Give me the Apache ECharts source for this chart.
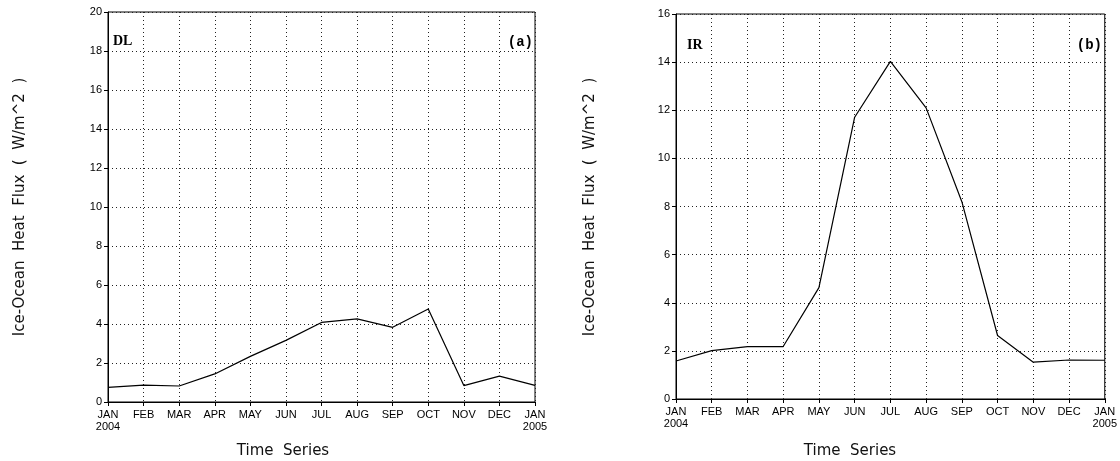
<!DOCTYPE html>
<html>
<head>
<meta charset="utf-8">
<script src="https://cdn.jsdelivr.net/npm/echarts@6/dist/echarts.min.js"></script>
<style>
html,body{margin:0;padding:0;background:#fff;}
#chart{width:1120px;height:461px;}
</style>
</head>
<body>
<div id="chart"></div>
<script>
// ---- data ----
const months = ['JAN\n2004','FEB','MAR','APR','MAY','JUN','JUL','AUG','SEP','OCT','NOV','DEC','JAN\n2005'];
const dlFlux = [0.75, 0.87, 0.82, 1.44, 2.34, 3.16, 4.08, 4.26, 3.83, 4.77, 0.84, 1.33, 0.85];
const irFlux = [1.58, 2.01, 2.18, 2.18, 4.63, 11.71, 14.03, 12.10, 8.20, 2.64, 1.53, 1.62, 1.61];
const dlAxis = {min: 0, max: 20, interval: 2};
const irAxis = {min: 0, max: 16, interval: 2};
const yTitle = 'Ice-Ocean  Heat  Flux  (  W/m^2  )';
const xTitle = 'Time  Series';
const panelTags = [['DL', '(a)'], ['IR', '(b)']];

// ---- chart ----
const chart = echarts.init(document.getElementById('chart'), null, {renderer: 'canvas'});
const dotted = {color: '#222', width: 1, type: [1, 3]};
const tickFont = {color: '#000', fontFamily: 'Liberation Sans', fontSize: 11};

function xAx(gi) {
  return {
    gridIndex: gi, type: 'category', data: months, boundaryGap: false,
    axisLine: {show: true, lineStyle: {color: '#000', width: 1}},
    axisTick: {show: true, length: 4, interval: 0, lineStyle: {color: '#000'}},
    axisLabel: Object.assign({interval: 0, margin: 7, lineHeight: 12}, tickFont),
    splitLine: {show: true, interval: 0, lineStyle: dotted}
  };
}
function yAx(gi, a) {
  return {
    gridIndex: gi, type: 'value', min: a.min, max: a.max, interval: a.interval,
    axisLine: {show: true, lineStyle: {color: '#000', width: 1}},
    axisTick: {show: true, length: 4, lineStyle: {color: '#000'}},
    axisLabel: Object.assign({margin: 6}, tickFont),
    splitLine: {show: true, lineStyle: dotted}
  };
}
function txt(x, y, text, font, opts) {
  return {
    type: 'text', x: x, y: y,
    style: Object.assign({text: text, fill: '#000', font: font, align: 'left', verticalAlign: 'middle'}, opts || {})
  };
}
const titleFont = '15px "DejaVu Sans"';
const tagSerif = 'bold 14px "Liberation Serif"';
const tagMono = 'bold 14px "Liberation Mono"';

chart.setOption({
  animation: false,
  backgroundColor: '#fff',
  grid: [
    {left: 108, top: 12, width: 427, height: 390, show: true, borderColor: '#000', borderWidth: 1, backgroundColor: 'transparent'},
    {left: 676, top: 14, width: 429, height: 385, show: true, borderColor: '#000', borderWidth: 1, backgroundColor: 'transparent'}
  ],
  xAxis: [xAx(0), xAx(1)],
  yAxis: [yAx(0, dlAxis), yAx(1, irAxis)],
  series: [
    {type: 'line', xAxisIndex: 0, yAxisIndex: 0, data: dlFlux, symbol: 'none', lineStyle: {color: '#000', width: 1.2}},
    {type: 'line', xAxisIndex: 1, yAxisIndex: 1, data: irFlux, symbol: 'none', lineStyle: {color: '#000', width: 1.2}}
  ],
  graphic: [
    {type: 'text', x: 20, y: 207, rotation: Math.PI / 2, style: {text: yTitle, fill: '#111', font: titleFont, align: 'center', verticalAlign: 'middle'}},
    {type: 'text', x: 590, y: 207, rotation: Math.PI / 2, style: {text: yTitle, fill: '#111', font: titleFont, align: 'center', verticalAlign: 'middle'}},
    {type: 'text', x: 283, y: 451, style: {text: xTitle, fill: '#111', font: titleFont, align: 'center', verticalAlign: 'middle'}},
    {type: 'text', x: 850, y: 451, style: {text: xTitle, fill: '#111', font: titleFont, align: 'center', verticalAlign: 'middle'}},
    txt(113, 41, panelTags[0][0], tagSerif),
    txt(533, 42, panelTags[0][1], tagMono, {align: 'right'}),
    txt(687, 45, panelTags[1][0], tagSerif),
    txt(1102, 45, panelTags[1][1], tagMono, {align: 'right'})
  ]
});
</script>
</body>
</html>
